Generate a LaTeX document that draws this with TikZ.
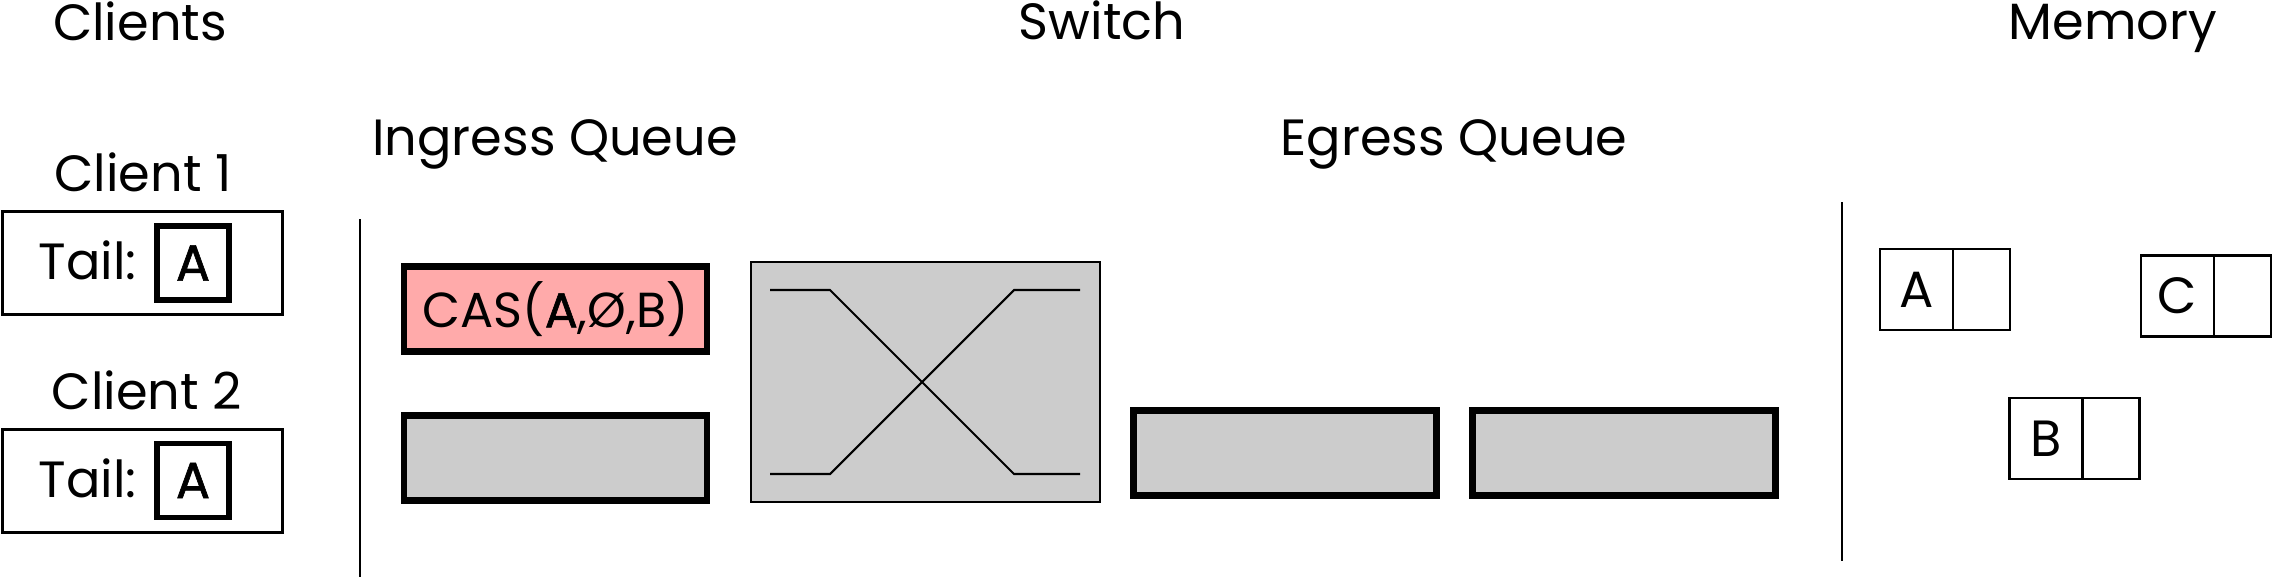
\documentclass[tikz,border=0pt]{standalone}
\usepackage{fontspec}
\setmainfont{Poppins}
\newfontface\heavyA{Poppins}[FakeBold=1.2]
\definecolor{qgray}{HTML}{CCCCCC}
\definecolor{qpink}{HTML}{FFAAAA}
\newcommand{\lblsize}{\fontsize{14.5}{17}\selectfont}
\tikzset{
    title/.style={anchor=base, inner sep=0pt, font=\lblsize},
    client/.style={draw, line width=1pt, minimum width=2.80cm, minimum height=1.03cm},
    tailbox/.style={draw, line width=1.7pt, minimum width=0.72cm, minimum height=0.74cm, inner sep=0pt, font=\lblsize\heavyA},
    queue/.style={draw, fill=qgray, line width=1.8pt, minimum width=3.03cm, minimum height=0.85cm, inner sep=0pt},
    cell/.style={draw, line width=0.6pt, minimum height=0.81cm, inner sep=0pt, outer sep=0pt, font=\lblsize},
}
\begin{document}
\begin{tikzpicture}
                \useasboundingbox (0,0) rectangle (22.72,-5.77);

                \node[title] (clients) at (1.40,-0.40) {Clients};
                \node[title] (switch) at (11.02,-0.39) {Switch};
                \node[title] (memory) at (21.13,-0.39) {Memory};
                \node[title] (ingress) at (5.55,-1.55) {Ingress Queue};
                \node[title] (egress) at (14.54,-1.55) {Egress Queue};

                \node[title] (client1) at (1.43,-1.91) {Client 1};
                \node[client] (box1) at (1.425,-2.63) {};
                \node[title, anchor=base west] (tail1) at (0.38,-2.79) {Tail:};
                \node[tailbox] (head1) at (1.93,-2.63) {A};

                \node[title] (client2) at (1.47,-4.09) {Client 2};
                \node[client] (box2) at (1.425,-4.81) {};
                \node[title, anchor=base west] (tail2) at (0.38,-4.97) {Tail:};
                \node[tailbox] (head2) at (1.93,-4.805) {A};

                \draw[line width=0.8pt] (3.60,-2.19) -- (3.60,-5.77);
                \draw[line width=0.8pt] (18.42,-2.02) -- (18.42,-5.61);

                \node[queue, fill=qpink, font=\fontsize{14}{16}\selectfont] (cas) at (5.555,-3.09) {CAS({\heavyA A},Ø,B)};
                \node[queue] (inq2) at (5.555,-4.58) {};

                \node[draw, fill=qgray, line width=0.6pt, minimum width=3.49cm, minimum height=2.40cm] (xbar) at (9.255,-3.82) {};
                \draw[line width=0.6pt] (7.70,-2.90) -- (8.30,-2.90) -- (10.14,-4.74) -- (10.80,-4.74);
                \draw[line width=0.6pt] (7.70,-4.74) -- (8.30,-4.74) -- (10.14,-2.90) -- (10.80,-2.90);

                \node[queue] (outq1) at (12.85,-4.53) {};
                \node[queue] (outq2) at (16.24,-4.53) {};

                \node[cell, minimum width=0.73cm] (memA) at (19.165,-2.895) {A};
                \node[cell, minimum width=0.57cm, anchor=west] (memAnext) at (memA.east) {};
                \node[cell, minimum width=0.73cm] (memC) at (21.775,-2.96) {C};
                \node[cell, minimum width=0.57cm, anchor=west] (memCnext) at (memC.east) {};
                \node[cell, minimum width=0.73cm] (memB) at (20.46,-4.385) {B};
                \node[cell, minimum width=0.57cm, anchor=west] (memBnext) at (memB.east) {};
            \end{tikzpicture}
\end{document}
